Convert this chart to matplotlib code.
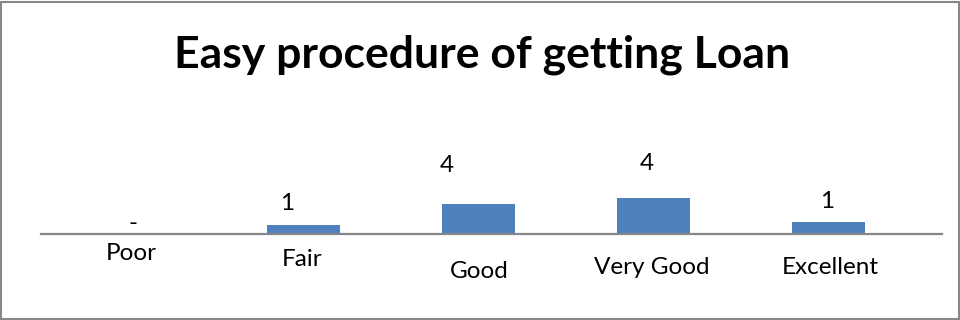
import matplotlib.pyplot as plt
from matplotlib.patches import Rectangle

categories = ["Poor", "Fair", "Good", "Very Good", "Excellent"]
responses = [0, 1, 4, 4, 1]
# bar heights as they are drawn in the source (not proportional to the counts)
bar_heights = [0, 0.3, 1.0, 1.2, 0.4]

# label placement quirks of the original, in pixels
value_offsets = [(5, 11), (-16, 22), (-32, 38), (-6, 35), (-1, 20)]
tick_offsets = [(3, -19), (-1, -25), (1, -37), (-1, -34), (2, -34)]

plt.rcParams['font.family'] = ['Lato', 'DejaVu Sans']

fig = plt.figure(figsize=(9.6, 3.2), dpi=100)
ax = fig.add_axes([41 / 960, 86 / 320, 901 / 960, 150 / 320])
xs = list(range(len(categories)))
ax.bar(xs, bar_heights, width=0.417, color="#4F81BD", zorder=2)
ax.axhline(0, color="#868686", lw=1.6, clip_on=False, zorder=3)
ax.set_xlim(-0.5, 4.651)
ax.set_ylim(0, 5)
ax.axis('off')

for i, (v, h) in enumerate(zip(responses, bar_heights)):
    lab = str(v) if v else "-"
    ax.annotate(lab, (i, h), xytext=value_offsets[i], textcoords='offset pixels',
                ha='center', va='center', fontsize=17.5, annotation_clip=False)

for i, c in enumerate(categories):
    ax.annotate(c, (i, 0), xytext=tick_offsets[i], textcoords='offset pixels',
                ha='center', va='center', fontsize=17.5, annotation_clip=False)

fig.text(482 / 960, 1 - 54.5 / 320, "Easy procedure of getting Loan",
         ha='center', va='center', fontsize=32, fontweight='bold')

fig.patches.append(Rectangle((0.5 / 960, 1 / 320), 958.5 / 960, 317 / 320,
                             transform=fig.transFigure, fill=False,
                             ec="#888888", lw=1.5))

fig.savefig("out.png", dpi=100)
